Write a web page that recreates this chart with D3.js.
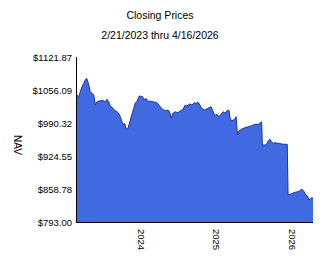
<!DOCTYPE html>
<html>
<head>
<meta charset="utf-8">
<script src="https://cdn.jsdelivr.net/npm/d3@7"></script>
<style>
  body { margin: 0; background: #fff; }
  svg text { font-family: Arial, "Liberation Sans", sans-serif; fill: #000; }
</style>
</head>
<body>
<svg id="chart" width="324" height="267"></svg>
<script>
// fechas y cierres
const dates = [
  '2023-02-21','2023-03-06','2023-03-14','2023-03-22','2023-03-30','2023-04-07','2023-04-14','2023-04-24',
  '2023-05-01','2023-05-10','2023-05-18','2023-05-26','2023-06-03','2023-06-19','2023-07-05','2023-07-13',
  '2023-07-21','2023-07-30','2023-08-06','2023-08-15','2023-08-23','2023-08-31','2023-09-08','2023-09-16',
  '2023-09-24','2023-10-02','2023-10-10','2023-10-15','2023-10-22','2023-10-30','2023-11-07','2023-11-16',
  '2023-11-28','2023-12-06','2023-12-14','2023-12-22','2023-12-30','2024-01-10','2024-01-20','2024-01-27',
  '2024-02-05','2024-02-16','2024-03-04','2024-03-15','2024-03-25','2024-04-05','2024-04-16','2024-04-29',
  '2024-05-12','2024-05-20','2024-05-28','2024-06-05','2024-06-17','2024-06-30','2024-07-11','2024-07-22',
  '2024-08-04','2024-08-12','2024-08-24','2024-09-06','2024-09-17','2024-09-25','2024-10-06','2024-10-14',
  '2024-10-23','2024-11-04','2024-11-16','2024-11-27','2024-12-07','2024-12-18','2024-12-26','2025-01-05',
  '2025-01-15','2025-01-28','2025-02-06','2025-02-13','2025-02-22','2025-03-04','2025-03-10','2025-03-17',
  '2025-03-25','2025-04-02','2025-04-08','2025-04-12','2025-04-15','2025-04-22','2025-05-05','2025-05-21',
  '2025-06-06','2025-06-22','2025-07-08','2025-07-24','2025-08-01','2025-08-10','2025-08-13','2025-08-26',
  '2025-09-03','2025-09-11','2025-09-19','2025-09-27','2025-10-05','2025-10-13','2025-10-29','2025-11-15',
  '2025-12-01','2025-12-12','2025-12-16','2025-12-25','2026-01-02','2026-01-18','2026-02-03','2026-02-16',
  '2026-02-22','2026-03-04','2026-03-12','2026-03-21','2026-03-27','2026-04-02','2026-04-09','2026-04-16'
];
const nav = [
  1048.1,1042.7,1052.7,1062.7,1069.4,1076.0,1079.4,1066.0,
  1052.7,1049.5,1046.1,1026.2,1032.8,1034.8,1034.8,1032.2,
  1037.6,1032.8,1024.2,1021.6,1017.6,1014.8,1012.8,1009.6,
  1002.9,992.9,986.3,989.7,979.7,977.8,989.7,1002.9,
  1019.6,1030.8,1032.8,1042.7,1044.1,1042.7,1036.2,1039.5,
  1032.8,1034.2,1032.2,1031.6,1028.2,1022.8,1017.6,1014.8,
  1016.2,1012.8,999.7,1009.6,1012.8,1010.8,1014.8,1016.2,
  1026.2,1024.2,1028.2,1026.2,1030.8,1029.6,1031.6,1026.2,
  1019.6,1016.2,1018.2,1020.8,1022.8,1012.8,1004.9,1007.7,
  1002.9,1009.6,1012.8,1009.6,1014.2,1016.2,999.7,994.3,
  996.3,998.3,1002.9,979.7,966.4,974.4,978.3,980.9,
  982.9,984.9,987.7,987.7,989.7,992.9,946.5,946.5,
  947.9,954.4,957.8,953.0,949.9,951.0,949.9,948.5,
  947.9,947.9,846.8,848.2,849.4,852.2,853.4,856.8,
  858.2,853.4,846.8,844.8,836.8,838.8,841.4,840.2
];
const yTicks = [793.00, 858.78, 924.55, 990.32, 1056.09, 1121.87];
const xTicks = ['2024-01-01', '2025-01-01', '2026-01-01'];
const title = 'Closing Prices';
const subtitle = '2/21/2023 thru 4/16/2026';
const yLabel = 'NAV';

const parse = d3.timeParse('%Y-%m-%d');
const data = dates.map((d, i) => ({ date: parse(d), value: nav[i] }));

const svg = d3.select('#chart');
const plotL = 76, plotR = 313, plotT = 57, plotB = 222;

const x = d3.scaleTime()
  .domain([parse('2023-02-21'), parse('2026-04-16')])
  .range([plotL, plotR]);
const y = d3.scaleLinear()
  .domain([yTicks[0], yTicks[yTicks.length - 1]])
  .range([plotB, plotT]);

// --- Area ---
const area = d3.area()
  .x(d => x(d.date))
  .y0(plotB)
  .y1(d => y(d.value));
const line = d3.line()
  .x(d => x(d.date))
  .y(d => y(d.value));

svg.append('path')
  .datum(data)
  .attr('d', area)
  .attr('fill', '#4169e1');
svg.append('path')
  .datum(data)
  .attr('d', line)
  .attr('fill', 'none')
  .attr('stroke', '#16379c')
  .attr('stroke-width', 1);

// --- Ejes ---
const yAxis = svg.append('g')
  .attr('transform', `translate(${plotL},0)`)
  .call(d3.axisLeft(y).tickValues(yTicks).tickSize(0).tickPadding(4)
    .tickFormat(d => '$' + d.toFixed(2)));
yAxis.select('.domain').attr('stroke', '#000').attr('d', `M0.5,${plotT}V${plotB}`);
yAxis.selectAll('text').attr('font-size', 9.5).attr('font-family', 'Arial, "Liberation Sans", sans-serif');

const xAxis = svg.append('g')
  .attr('transform', `translate(0,${plotB})`)
  .call(d3.axisBottom(x).tickValues(xTicks.map(parse)).tickSize(0)
    .tickFormat(d3.timeFormat('%Y')));
xAxis.select('.domain').attr('stroke', '#000').attr('d', `M${plotL},0.5H${plotR}`);
xAxis.selectAll('text')
  .attr('font-size', 9.5)
  .attr('font-family', 'Arial, "Liberation Sans", sans-serif')
  .attr('text-anchor', 'start')
  .attr('dy', '0.35em')
  .attr('transform', 'translate(0,7) rotate(90)')
  .attr('x', 0).attr('y', 0);

// --- Titulos ---
svg.append('text')
  .attr('x', 160).attr('y', 19)
  .attr('text-anchor', 'middle')
  .attr('font-size', 10.5)
  .text(title);
svg.append('text')
  .attr('x', 160).attr('y', 39)
  .attr('text-anchor', 'middle')
  .attr('font-size', 10.5)
  .text(subtitle);
svg.append('text')
  .attr('transform', 'translate(14,145) rotate(90)')
  .attr('text-anchor', 'middle')
  .attr('font-size', 10)
  .text(yLabel);
</script>
</body>
</html>
